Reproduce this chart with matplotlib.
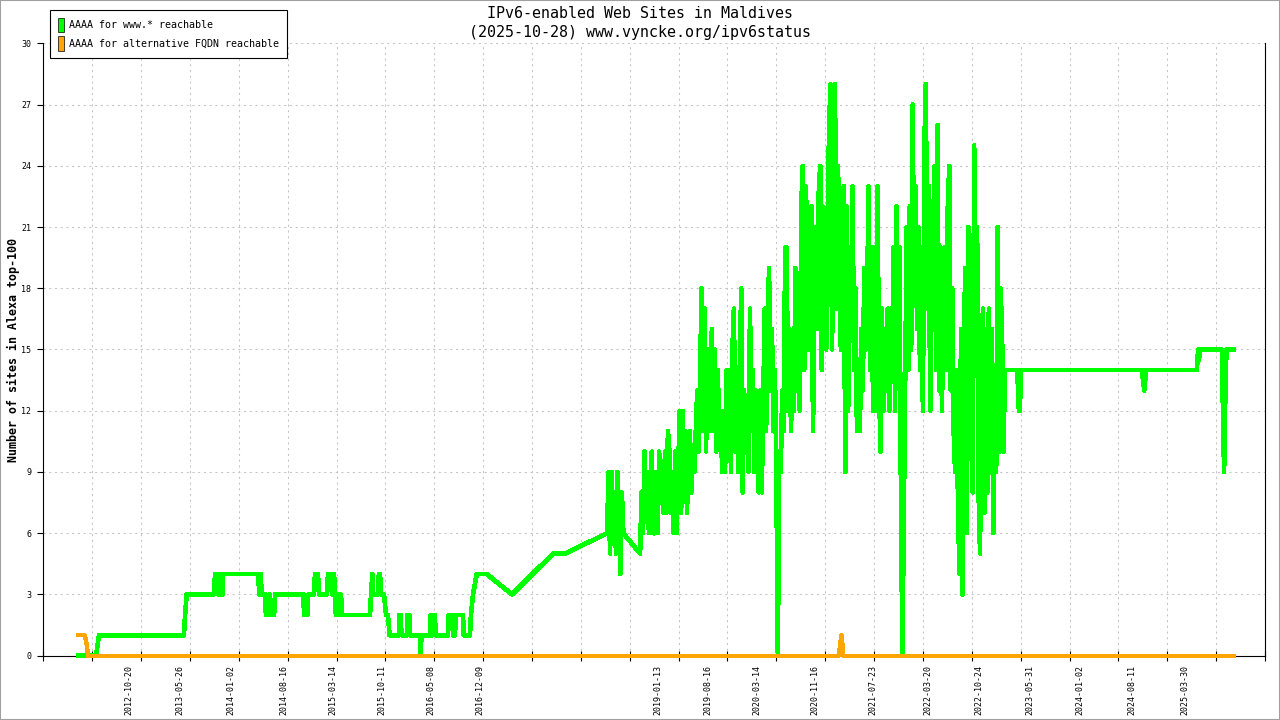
import numpy as np
import pandas as pd
import matplotlib
matplotlib.use('Agg')
import matplotlib.pyplot as plt
import matplotlib.dates as mdates
from matplotlib.patches import Patch, Rectangle
from matplotlib.font_manager import FontProperties

# ---------------- data ----------------
base_date = '2012-10-20'          # day 0 for the day offsets below
title_lines = ['IPv6-enabled Web Sites in Maldives',
               '(2025-10-28) www.vyncke.org/ipv6status']
y_label = 'Number of sites in Alexa top-100'
series_names = ['AAAA for www.* reachable', 'AAAA for alternative FQDN reachable']
series_colors = ['#00ff00', '#ffa500']
x_range_days = [-370, 4887]
y_ticks = [0, 3, 6, 9, 12, 15, 18, 21, 24, 27, 30]
date_labels = ['2012-10-20', '2013-05-26', '2014-01-02', '2014-08-16', '2015-03-14',
               '2015-10-11', '2016-05-08', '2016-12-09', '2019-01-13', '2019-08-16',
               '2020-03-14', '2020-11-16', '2021-07-23', '2022-03-20', '2022-10-24',
               '2023-05-31', '2024-01-02', '2024-08-11', '2025-03-30']

green_early_days = [-229, -143, -137, -130, 235, 240, 247, 364, 369, 377,
                    382, 387, 393, 402, 404, 555, 559, 565, 570, 584,
                    588, 598, 603, 608, 623, 627, 749, 752, 766, 770,
                    795, 799, 812, 816, 851, 855, 868, 872, 877, 881,
                    885, 889, 898, 902, 911, 915, 937, 1036, 1040, 1046,
                    1050, 1070, 1074, 1079, 1083, 1096, 1105, 1113, 1120, 1160,
                    1163, 1168, 1171, 1195, 1197, 1205, 1208, 1251, 1254, 1257,
                    1294, 1297, 1302, 1307, 1315, 1318, 1371, 1374, 1389, 1393,
                    1401, 1406, 1436, 1439, 1466, 1470, 1479, 1495, 1538, 1647,
                    1823, 1875]
green_early_vals = [0, 0, 0.5, 1, 1, 2, 3, 3, 4, 4,
                    3, 4, 3, 3, 4, 4, 3, 4, 3, 3,
                    2, 2, 3, 2, 2, 3, 3, 2, 2, 3,
                    3, 4, 4, 3, 3, 4, 4, 3, 4, 4,
                    3, 2, 2, 3, 3, 2, 2, 2, 3, 4,
                    3, 3, 4, 4, 3, 3, 2, 2, 1, 1,
                    2, 2, 1, 1, 2, 2, 1, 1, 0, 1,
                    1, 2, 1, 2, 2, 1, 1, 2, 2, 1,
                    1, 2, 2, 1, 1, 2, 3, 4, 4, 3,
                    5, 5]

green_noise1_span = [2056, 2126]
green_noise1_vals = [6, 9, 5, 9, 6, 8, 5, 9, 7, 4, 8, 6]

green_noise2_span = [2198, 3768]
green_noise2_vals = [
    5, 8, 6, 10, 7, 9, 6, 8, 10, 6,
    6, 9, 6, 10, 8, 9, 7, 10, 7, 11,
    10, 7, 9, 6, 10, 6, 9, 12, 7, 12,
    8, 11, 7, 10, 11, 8, 10, 9, 11, 13,
    10, 14, 18, 11, 17, 10, 15, 11, 14, 16,
    11, 15, 10, 14, 11, 12, 9, 12, 9, 14,
    10, 14, 9, 15, 17, 10, 13, 9, 14, 18,
    8, 13, 10, 12, 9, 17, 11, 14, 9, 13,
    11, 8, 13, 8, 12, 17, 11, 16, 19, 13,
    16, 11, 14, 9, 0, 10, 9, 13, 11, 20,
    20, 12, 16, 11, 15, 12, 19, 13, 16, 12,
    22, 24, 14, 23, 21, 15, 19, 22, 11, 17,
    21, 16, 23, 24, 14, 22, 20, 15, 21, 26,
    28, 15, 23, 28, 17, 24, 21, 15, 20, 23,
    9, 22, 12, 20, 16, 23, 14, 18, 11, 14,
    11, 16, 13, 19, 15, 18, 23, 14, 20, 12,
    20, 12, 23, 14, 10, 17, 12, 16, 13, 17,
    12, 17, 14, 20, 12, 22, 14, 20, 8, 0,
    7, 14, 21, 14, 22, 15, 27, 18, 23, 16,
    21, 14, 20, 12, 25, 28, 17, 23, 12, 20,
    21, 24, 14, 26, 13, 20, 12, 18, 20, 14,
    22, 24, 13, 18, 11, 9, 14, 7, 4, 16,
    3, 16, 19, 6, 21, 12, 18, 8, 25, 14,
    21, 8, 5, 15, 17, 7, 16, 8, 17, 9,
    16, 6, 13, 9, 21, 10, 18, 16, 10, 14]

green_late_days = [3822, 3824, 3828, 3833, 3835, 4358, 4362, 4368, 4375, 4594,
                   4599, 4603, 4607, 4702, 4706, 4711, 4715, 4721, 4760]
green_late_vals = [14, 13, 12, 12, 14, 14, 13.5, 13, 14, 14,
                   15, 14.5, 15, 15, 12, 9, 12, 15, 15]

orange_days = [-229, -191, -182, -178, 3054, 3058, 3065, 3069, 3071, 4760]
orange_vals = [1, 1, 0.5, 0, 0, 0.5, 1, 0.5, 0, 0]

# ---------------- build series ----------------
base_num = mdates.date2num(pd.Timestamp(base_date))

def to_num(days):
    return base_num + np.asarray(days, dtype=float)

n1 = np.linspace(green_noise1_span[0], green_noise1_span[1], len(green_noise1_vals))
n2 = np.linspace(green_noise2_span[0], green_noise2_span[1], len(green_noise2_vals))
green_x = np.concatenate([to_num(green_early_days), to_num(n1), to_num(n2),
                          to_num(green_late_days)])
green_y = np.concatenate([green_early_vals, green_noise1_vals, green_noise2_vals,
                          green_late_vals]).astype(float)
orange_x = to_num(orange_days)
orange_y = np.asarray(orange_vals, dtype=float)

mono = 'DejaVu Sans Mono'

# ---------------- figure ----------------
fig = plt.figure(figsize=(12.8, 7.2), dpi=100)
fig.patch.set_facecolor('white')
ax = fig.add_axes([43.3 / 1280, 1 - 655.7 / 720, (1265 - 43.3) / 1280, (655.7 - 43.3) / 720])

ax.plot(green_x, green_y, color=series_colors[0], lw=2.6, solid_joinstyle='round',
        solid_capstyle='butt', antialiased=False, zorder=3, clip_on=False)
ax.plot(orange_x, orange_y, color=series_colors[1], lw=2.4, solid_joinstyle='round',
        solid_capstyle='butt', antialiased=False, zorder=4, clip_on=False)

xmin, xmax = to_num(x_range_days)
ax.set_xlim(xmin, xmax)
ax.set_ylim(0, 30)

ax.set_xticks(np.linspace(xmin, xmax, 26))
ax.set_xticklabels([])
ax.set_xticks(mdates.date2num(pd.to_datetime(date_labels)), minor=True)
ax.set_xticklabels(date_labels, minor=True, rotation=90, fontsize=6, family=mono)
ax.tick_params(axis='x', which='major', direction='inout', length=7, width=0.8)
ax.tick_params(axis='x', which='minor', length=0, pad=6.7)

ax.set_yticks(y_ticks)
ax.set_yticklabels([str(v) for v in y_ticks], fontsize=6, family=mono)
ax.tick_params(axis='y', direction='out', length=4.5, width=0.8, pad=4)

ax.grid(which='major', axis='both', color='#c4c4c4', linestyle=(0, (2, 3.5)), lw=0.75)
ax.set_axisbelow(True)

ax.spines['top'].set_visible(False)
for s in ['left', 'right', 'bottom']:
    ax.spines[s].set_linewidth(0.8)
    ax.spines[s].set_color('black')

# titles
fig.text(0.5, 1 - 13 / 720, title_lines[0], ha='center', va='center',
         fontsize=10.8, family=mono)
fig.text(0.5, 1 - 32 / 720, title_lines[1], ha='center', va='center',
         fontsize=10.8, family=mono)
fig.text(13 / 1280, 1 - 350 / 720, y_label, rotation=90, ha='center', va='center',
         fontsize=8.4, fontweight='bold', family=mono)

# legend
handles = [Patch(facecolor=c, edgecolor='black', linewidth=0.5) for c in series_colors]
leg = fig.legend(handles, series_names, loc='upper left',
                 bbox_to_anchor=(50 / 1280, 1 - 10 / 720), bbox_transform=fig.transFigure,
                 prop=FontProperties(family=mono, size=7.2), frameon=True, fancybox=False,
                 edgecolor='black', framealpha=1, borderpad=0.75, labelspacing=0.35,
                 handlelength=0.6, handleheight=1.9, handletextpad=0.57, borderaxespad=0)
leg.get_frame().set_linewidth(0.8)

# outer frame
fig.patches.append(Rectangle((0, 0), 1, 1, transform=fig.transFigure, fill=False,
                             edgecolor='#a0a0a0', lw=1.5))

fig.savefig('out.png', dpi=100)
